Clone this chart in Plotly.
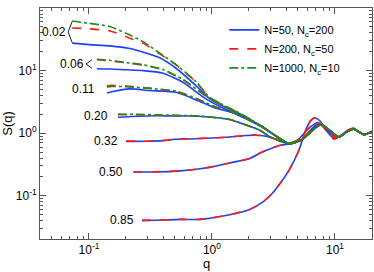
import plotly.graph_objects as go
import math

# ---------------- data ----------------
labels = ["0.02", "0.06", "0.11", "0.20", "0.32", "0.50", "0.85"]
series_names = ["N=50, N<sub>c</sub>=200", "N=200, N<sub>c</sub>=50", "N=1000, N<sub>c</sub>=10"]

# common high-q tail shared by the dilute curves
q_tail = [4.25, 5.4, 6.5, 7.7, 9.0, 10.8, 12.5, 14.2, 17.2, 20.0]
s_tail = [0.68, 0.79, 1.1, 1.37, 1.12, 0.87, 1.05, 1.17, 0.95, 1.07]

q02 = [0.073, 0.1, 0.148, 0.215, 0.28, 0.376, 0.513, 0.745, 0.95, 1.39, 1.67, 2.56, 3.2]
s02_b = [27.5, 26.0, 24.8, 22.5, 19.5, 16.0, 10.8, 5.7, 3.6, 2.4, 2.05, 1.27, 0.95]
s02_r = [48.0, 46.5, 43.0, 33.0, 27.0, 18.5, 12.3, 6.5, 3.8, 2.5, 2.1, 1.28, 0.95]
s02_g = [62.0, 57.0, 50.5, 37.0, 28.5, 19.0, 12.3, 6.6, 3.8, 2.5, 2.1, 1.28, 0.95]

q06 = [0.116, 0.15, 0.2, 0.276, 0.4, 0.58, 0.9, 1.39, 1.67, 2.56, 3.2]
s06_b = [10.7, 10.6, 10.3, 10.0, 9.1, 6.5, 3.5, 2.25, 1.95, 1.25, 0.94]
s06_r = [14.9, 14.3, 13.3, 12.3, 10.3, 7.2, 3.9, 2.4, 2.05, 1.27, 0.95]
s06_g = [15.2, 14.5, 13.4, 12.4, 10.4, 7.2, 3.9, 2.4, 2.05, 1.27, 0.95]

q11 = [0.14, 0.153, 0.215, 0.31, 0.51, 0.745, 1.08, 1.39, 1.67, 2.56, 3.2]
s11_b = [4.4, 4.6, 5.1, 4.8, 4.5, 3.4, 2.5, 2.2, 1.9, 1.25, 0.94]
s11_r = [5.7, 5.8, 5.6, 5.25, 4.6, 3.6, 2.6, 2.25, 1.95, 1.26, 0.95]
s11_g = [5.5, 5.6, 5.5, 5.2, 4.7, 3.6, 2.6, 2.25, 1.95, 1.26, 0.95]

q20 = [0.172, 0.25, 0.35, 0.5, 0.7, 1.0, 1.39, 1.57, 2.0, 2.43, 2.92, 3.5]
s20_b = [1.8, 1.87, 1.9, 1.88, 1.88, 1.8, 1.66, 1.54, 1.3, 1.12, 0.89, 0.76]
s20_r = [1.97, 1.97, 1.95, 1.92, 1.9, 1.8, 1.66, 1.54, 1.3, 1.12, 0.89, 0.76]
s20_g = [2.02, 2.0, 1.97, 1.93, 1.9, 1.8, 1.66, 1.54, 1.3, 1.12, 0.89, 0.76]

q32 = [0.2, 0.3, 0.4, 0.5, 0.66, 1.0, 1.39, 1.9, 2.3, 2.7, 3.1, 3.6, 4.25, 5.4, 6.4, 7.4, 8.8, 10.5, 12.5, 14.2, 17.2, 20.0]
s32_b = [0.74, 0.745, 0.76, 0.8, 0.81, 0.84, 0.87, 0.92, 0.93, 0.9, 0.84, 0.76, 0.69, 0.8, 1.15, 1.42, 1.12, 0.86, 1.05, 1.17, 0.95, 1.07]
s32_r = [0.75, 0.745, 0.765, 0.8, 0.815, 0.84, 0.87, 0.92, 0.93, 0.9, 0.84, 0.76, 0.69, 0.8, 1.16, 1.44, 1.1, 0.85, 1.05, 1.18, 0.95, 1.07]

q50 = [0.23, 0.35, 0.55, 0.8, 1.0, 1.39, 2.0, 2.56, 3.1, 3.6, 4.25, 5.0, 6.0, 7.2, 8.5, 10.2, 12.5, 14.2, 17.2, 20.0]
s50_b = [0.24, 0.24, 0.25, 0.27, 0.29, 0.335, 0.39, 0.5, 0.58, 0.64, 0.68, 0.78, 1.15, 1.48, 1.15, 0.85, 1.05, 1.18, 0.95, 1.07]
s50_r = [0.24, 0.242, 0.25, 0.27, 0.29, 0.335, 0.39, 0.5, 0.58, 0.64, 0.68, 0.78, 1.16, 1.5, 1.13, 0.84, 1.05, 1.19, 0.95, 1.07]

q85 = [0.27, 0.4, 0.55, 0.8, 1.2, 2.0, 2.6, 3.1, 3.6, 4.25, 5.1, 5.8, 6.4, 6.9, 7.6, 8.5, 9.8, 11.0, 12.5, 14.2, 17.2, 20.0]
s85_b = [0.04, 0.041, 0.042, 0.042, 0.047, 0.06, 0.08, 0.11, 0.16, 0.26, 0.54, 1.14, 1.6, 1.75, 1.55, 1.1, 0.82, 0.9, 1.1, 1.2, 0.95, 1.05]
s85_r = [0.041, 0.041, 0.042, 0.042, 0.047, 0.06, 0.08, 0.11, 0.16, 0.26, 0.54, 1.16, 1.63, 1.78, 1.55, 1.08, 0.8, 0.9, 1.1, 1.2, 0.95, 1.05]

x_ticks = [0.1, 1, 10]
x_tick_text = ["10<sup>-1</sup>", "10<sup>0</sup>", "10<sup>1</sup>"]
y_ticks = [0.1, 1, 10, 100]
y_tick_text = ["10<sup>-1</sup>", "10<sup>0</sup>", "10<sup>1</sup>", "10<sup>2</sup>"]

# ---------------- styling ----------------
FONT = "Liberation Sans, Arial, sans-serif"
colors = ["#1f3fff", "#ff1a1a", "#1a8c1a"]
dashes = ["solid", "dash", "dashdot"]
AX = "#555555"

curves = [
    (q02, [s02_b, s02_r, s02_g], True, 4),
    (q06, [s06_b, s06_r, s06_g], True, 11),
    (q11, [s11_b, s11_r, s11_g], True, 10),
    (q20, [s20_b, s20_r, s20_g], True, 8),
    (q32, [s32_b, s32_r], False, 6),
    (q50, [s50_b, s50_r], False, 8),
    (q85, [s85_b, s85_r], False, 6),
]

fig = go.Figure()
shown = set()
for si in range(3):
    for q, slist, has_tail, _ in curves:
        if si >= len(slist):
            continue
        xs = list(q) + (q_tail if has_tail else [])
        ys = list(slist[si]) + (s_tail if has_tail else [])
        fig.add_trace(go.Scatter(
            x=xs, y=ys, mode="lines",
            line=dict(color=colors[si], width=1.6, dash=dashes[si], shape="spline", smoothing=0.6),
            name=series_names[si], legendgroup=str(si),
            showlegend=si not in shown, hoverinfo="skip"))
        shown.add(si)

DEC_PX = 123.5  # pixels per decade on the x axis (for label offsets)
annotations = []
for (q, slist, _, gap), lab in zip(curves, labels):
    top = max(s[0] for s in slist)
    bot = min(s[0] for s in slist)
    ymid = math.sqrt(top * bot)
    annotations.append(dict(x=math.log10(q[0]), y=math.log10(ymid), xref="x", yref="y",
                            text=lab, showarrow=False, xanchor="right", yanchor="middle",
                            xshift=-gap, font=dict(family=FONT, size=12, color="black")))

annotations.append(dict(x=0.5, y=-0.104, xref="paper", yref="paper", yanchor="middle",
                        text="q", showarrow=False,
                        font=dict(family=FONT, size=13, color="black")))

# angle brackets for the two lowest concentrations
for (q, slist, _, gap), end_px in zip(curves[:2], [0, 5]):
    top = max(s[0] for s in slist)
    bot = min(s[0] for s in slist)
    x_end = q[0] / 10 ** (end_px / DEC_PX)
    x_vtx = q[0] / 10 ** (gap / DEC_PX)
    fig.add_trace(go.Scatter(
        x=[x_end, x_vtx, x_end], y=[top * 0.98, math.sqrt(top * bot), bot * 1.02],
        mode="lines", line=dict(color="black", width=0.9), showlegend=False, hoverinfo="skip"))

axis_common = dict(type="log", showline=True, linecolor=AX, linewidth=1, mirror="allticks",
                   ticks="inside", ticklen=6, tickcolor=AX, tickwidth=1, showgrid=False,
                   zeroline=False, tickfont=dict(family=FONT, size=12, color="black"),
                   minor=dict(ticks="inside", ticklen=3, tickcolor=AX, dtick="D1", showgrid=False))

fig.update_xaxes(**axis_common, range=[math.log10(0.04), math.log10(20)],
                 tickvals=x_ticks, ticktext=x_tick_text)
fig.update_yaxes(**axis_common, range=[-1.69, 2],
                 tickvals=y_ticks, ticktext=y_tick_text,
                 title=dict(text="S(q)", font=dict(family=FONT, size=13, color="black"), standoff=4))

fig.update_layout(
    width=374, height=272,
    margin=dict(l=40, r=2, t=8, b=33),
    paper_bgcolor="white", plot_bgcolor="white",
    font=dict(family=FONT, size=12, color="black"),
    annotations=annotations,
    legend=dict(x=0.555, y=0.968, xanchor="left", yanchor="top",
                bgcolor="rgba(0,0,0,0)", font=dict(family=FONT, size=11),
                itemwidth=30, tracegroupgap=0),
)

fig.write_html("out.html", config={"displayModeBar": False},
               post_script="document.body.style.margin='0';")
